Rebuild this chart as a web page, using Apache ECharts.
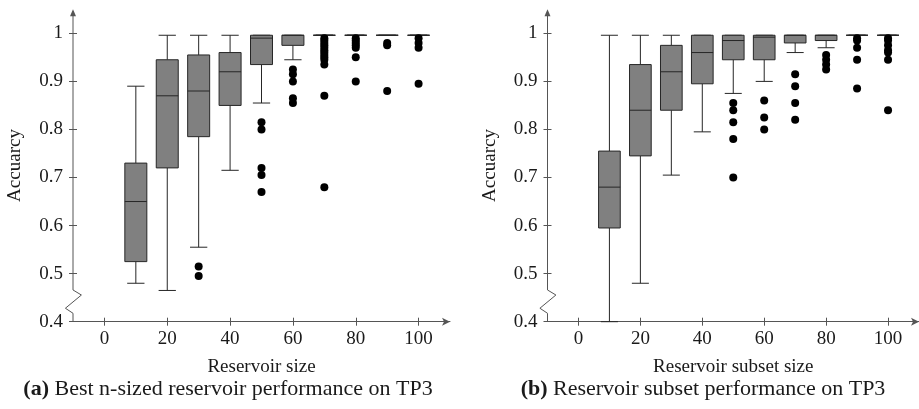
<!DOCTYPE html>
<html>
<head>
<meta charset="utf-8">
<script src="https://cdn.jsdelivr.net/npm/echarts@6/dist/echarts.min.js"></script>
<style>
  html, body { margin: 0; padding: 0; background: #fff; }
  #chart { width: 919px; height: 409px; }
</style>
</head>
<body>
<div id="chart"></div>
<script>
// Reservoir sizes on the x axis (shared by both panels)
const sizes = [10, 20, 30, 40, 50, 60, 70, 80, 90, 100];
const xTicks = [0, 20, 40, 60, 80, 100];
const yTicks = [0.4, 0.5, 0.6, 0.7, 0.8, 0.9, 1];

// (a) Best n-sized reservoir: box statistics per size
const bestLow    = [0.48,  0.465, 0.555, 0.715, 0.855, 0.945, 0.996, 0.996, 0.996, 0.996];
const bestQ1     = [0.525, 0.72,  0.785, 0.85,  0.935, 0.975, 0.996, 0.996, 0.996, 0.996];
const bestMedian = [0.65,  0.87,  0.88,  0.92,  0.99,  0.996, 0.996, 0.996, 0.996, 0.996];
const bestQ3     = [0.73,  0.945, 0.955, 0.96,  0.996, 0.996, 0.996, 0.996, 0.996, 0.996];
const bestHigh   = [0.89,  0.996, 0.996, 0.996, 0.996, 0.996, 0.996, 0.996, 0.996, 0.996];
const bestOutliers = [
  [], [], [0.515, 0.495], [],
  [0.815, 0.80, 0.72, 0.705, 0.67],
  [0.925, 0.915, 0.90, 0.865, 0.855],
  [0.99, 0.985, 0.98, 0.975, 0.97, 0.965, 0.96, 0.955, 0.95, 0.945, 0.935, 0.87, 0.68],
  [0.99, 0.985, 0.98, 0.975, 0.97, 0.95, 0.90],
  [0.98, 0.975, 0.88],
  [0.99, 0.98, 0.97, 0.895]
];

// (b) Reservoir subsets: box statistics per subset size
const subsetLow    = [0.40,  0.48,  0.705, 0.795, 0.875, 0.90,  0.96,  0.97,  0.996, 0.996];
const subsetQ1     = [0.595, 0.745, 0.84,  0.895, 0.945, 0.945, 0.98,  0.985, 0.996, 0.996];
const subsetMedian = [0.68,  0.84,  0.92,  0.96,  0.985, 0.992, 0.996, 0.996, 0.996, 0.996];
const subsetQ3     = [0.755, 0.935, 0.975, 0.996, 0.996, 0.996, 0.996, 0.996, 0.996, 0.996];
const subsetHigh   = [0.996, 0.996, 0.996, 0.996, 0.996, 0.996, 0.996, 0.996, 0.996, 0.996];
const subsetOutliers = [
  [], [], [], [],
  [0.855, 0.84, 0.815, 0.78, 0.70],
  [0.86, 0.825, 0.80],
  [0.915, 0.89, 0.855, 0.82],
  [0.955, 0.945, 0.935, 0.925],
  [0.99, 0.985, 0.97, 0.945, 0.885],
  [0.99, 0.985, 0.975, 0.965, 0.96, 0.945, 0.84]
];

const FONT = '"Liberation Serif", "Times New Roman", serif';
const AXIS_COLOR = '#555';
const INK = '#1a1a1a';
const BOX_HALF = 3.5;   // half box width, in x units
const CAP_HALF = 2.75;  // half whisker-cap width, in x units

const panels = [
  { xName: 'Reservoir size', left: 73,
    low: bestLow, q1: bestQ1, med: bestMedian, q3: bestQ3, high: bestHigh, out: bestOutliers,
    caption: '{b|(a)} Best n-sized reservoir performance on TP3', capX: 228 },
  { xName: 'Reservoir subset size', left: 547.5,
    low: subsetLow, q1: subsetQ1, med: subsetMedian, q3: subsetQ3, high: subsetHigh, out: subsetOutliers,
    caption: '{b|(b)} Reservoir subset performance on TP3', capX: 703 }
];

function renderBox(params, api) {
  const x = api.value(0);
  const pLo = api.coord([x, api.value(1)]);
  const pQ1 = api.coord([x, api.value(2)]);
  const pMd = api.coord([x, api.value(3)]);
  const pQ3 = api.coord([x, api.value(4)]);
  const pHi = api.coord([x, api.value(5)]);
  const bw = api.size([BOX_HALF, 0])[0];
  const cw = api.size([CAP_HALF, 0])[0];
  const cx = pMd[0];
  const stroke = { stroke: '#262626', lineWidth: 1, fill: null };
  return {
    type: 'group',
    children: [
      { type: 'line', shape: { x1: cx, y1: pQ3[1], x2: cx, y2: pHi[1] }, style: stroke },
      { type: 'line', shape: { x1: cx, y1: pQ1[1], x2: cx, y2: pLo[1] }, style: stroke },
      { type: 'line', shape: { x1: cx - cw, y1: pHi[1], x2: cx + cw, y2: pHi[1] }, style: stroke },
      { type: 'line', shape: { x1: cx - cw, y1: pLo[1], x2: cx + cw, y2: pLo[1] }, style: stroke },
      { type: 'rect', shape: { x: cx - bw, y: pQ3[1], width: 2 * bw, height: pQ1[1] - pQ3[1] },
        style: { fill: '#808080', stroke: '#262626', lineWidth: 1 } },
      { type: 'line', shape: { x1: cx - bw, y1: pMd[1], x2: cx + bw, y2: pMd[1] }, style: stroke }
    ]
  };
}

const labelStyle = { color: INK, fontFamily: FONT, fontSize: 19 };
const grids = [], xAxes = [], yAxes = [], series = [];

panels.forEach((p, i) => {
  grids.push({ left: p.left, top: 9.3, width: 377, bottom: 87.3 });
  xAxes[i] = {
    type: 'value', gridIndex: i, min: -10, max: 110, position: 'bottom',
    axisLine: { show: true, onZero: false, symbol: ['none', 'arrow'], symbolSize: [6, 8],
      lineStyle: { color: AXIS_COLOR, width: 1 } },
    axisTick: { show: true, length: 4, customValues: xTicks, lineStyle: { color: AXIS_COLOR } },
    axisLabel: Object.assign({ customValues: xTicks, margin: 8 }, labelStyle),
    splitLine: { show: false },
    name: p.xName, nameLocation: 'middle', nameGap: 36,
    nameTextStyle: labelStyle
  };
  xAxes[i + 2] = {
    type: 'value', gridIndex: i, min: -10, max: 110, position: 'bottom',
    axisLine: { show: false, onZero: false },
    axisTick: { show: true, inside: true, length: 4, customValues: xTicks, lineStyle: { color: AXIS_COLOR } },
    axisLabel: { show: false }, splitLine: { show: false }
  };
  yAxes[i] = {
    type: 'value', gridIndex: i, min: 0.4, max: 1.05, position: 'left',
    axisLine: { show: false, onZero: false },
    axisTick: { show: true, length: 4, customValues: yTicks, lineStyle: { color: AXIS_COLOR } },
    axisLabel: Object.assign({ customValues: yTicks, margin: 10 }, labelStyle),
    splitLine: { show: false },
    name: 'Accuarcy', nameLocation: 'middle', nameGap: 48, nameRotate: 90,
    nameTextStyle: labelStyle
  };
  yAxes[i + 2] = {
    type: 'value', gridIndex: i, min: 0.4, max: 1.05, position: 'left',
    axisLine: { show: false, onZero: false },
    axisTick: { show: true, inside: true, length: 4, customValues: yTicks, lineStyle: { color: AXIS_COLOR } },
    axisLabel: { show: false }, splitLine: { show: false }
  };

  series.push({
    type: 'custom', xAxisIndex: i, yAxisIndex: i,
    renderItem: renderBox,
    encode: { x: 0, y: [1, 2, 3, 4, 5] },
    data: sizes.map((s, k) => [s, p.low[k], p.q1[k], p.med[k], p.q3[k], p.high[k]]),
    z: 2
  });
  const pts = [];
  sizes.forEach((s, k) => p.out[k].forEach(v => pts.push([s, v])));
  series.push({
    type: 'scatter', xAxisIndex: i, yAxisIndex: i,
    symbol: 'circle', symbolSize: 8,
    itemStyle: { color: '#000', opacity: 1 },
    data: pts, z: 3
  });
});

const chart = echarts.init(document.getElementById('chart'), null, { renderer: 'canvas' });
chart.setOption({
  animation: false,
  backgroundColor: '#fff',
  grid: grids, xAxis: xAxes, yAxis: yAxes, series: series
});

// Vertical axes with a break mark near the bottom, plus the panel captions
const graphics = [];
panels.forEach((p, i) => {
  const at = v => chart.convertToPixel({ xAxisIndex: i, yAxisIndex: i }, [-10, v]);
  const top = at(1.05), a = at(0.466), b = at(0.4555), c = at(0.428), d = at(0.4175), bot = at(0.4);
  const x = top[0];
  graphics.push({
    type: 'polyline', z: 10,
    shape: { points: [[x, top[1] + 2], [x, a[1]], [x + 8.4, b[1]], [x - 7.6, c[1]], [x, d[1]], [x, bot[1]]] },
    style: { stroke: AXIS_COLOR, lineWidth: 1, fill: null }
  });
  graphics.push({
    type: 'polygon', z: 10,
    shape: { points: [[x, top[1]], [x - 3, top[1] + 7], [x + 3, top[1] + 7]] },
    style: { fill: AXIS_COLOR }
  });
  graphics.push({
    type: 'text', z: 10, x: p.capX, y: 389,
    style: {
      text: p.caption, align: 'center', verticalAlign: 'middle',
      fontFamily: FONT, fontSize: 22, fill: INK,
      rich: { b: { fontFamily: FONT, fontSize: 22, fontWeight: 'bold', fill: INK } }
    }
  });
});
chart.setOption({ graphic: graphics });
</script>
</body>
</html>
